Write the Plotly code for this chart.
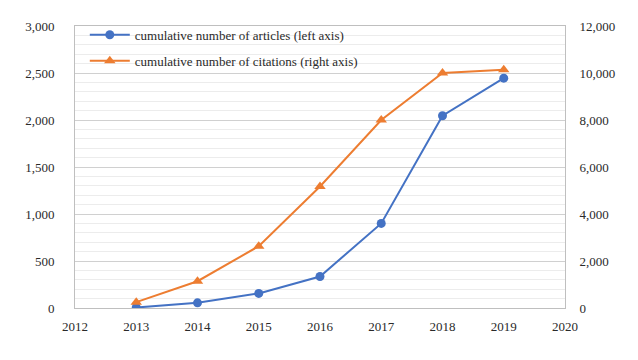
import plotly.graph_objects as go

years = [2013, 2014, 2015, 2016, 2017, 2018, 2019]
articles = [5, 55, 155, 335, 900, 2045, 2445]
citations = [250, 1140, 2630, 5170, 8000, 10000, 10140]

fig = go.Figure()
fig.add_trace(go.Scatter(
    x=years, y=articles, mode="lines+markers",
    name="cumulative number of articles (left axis)",
    legendgroup="a",
    line=dict(color="#4472C4", width=2),
    marker=dict(symbol="circle", size=9, color="#4472C4"),
    yaxis="y",
))
fig.add_trace(go.Scatter(
    x=years, y=citations, mode="lines+markers",
    name="cumulative number of citations (right axis)",
    legendgroup="b",
    line=dict(color="#ED7D31", width=2),
    marker=dict(symbol="triangle-up", size=10, color="#ED7D31"),
    yaxis="y2",
))

fig.update_layout(
    width=630, height=352,
    margin=dict(l=67, r=73, t=12, b=52),
    paper_bgcolor="white", plot_bgcolor="white",
    font=dict(family="Liberation Serif, DejaVu Serif, serif", size=13, color="#2a2a2a"),
    showlegend=True,
    legend=dict(x=0.02, y=1.022, xanchor="left", yanchor="top",
                bgcolor="rgba(0,0,0,0)", font=dict(size=13),
                itemwidth=40, tracegroupgap=6),
    xaxis=dict(range=[2012, 2020], dtick=1, tick0=2012, showgrid=False,
               showline=True, linecolor="#bfbfbf", mirror=True,
               ticks="", ticklabelstandoff=6, zeroline=False),
    yaxis=dict(range=[0, 3000], dtick=500, tickformat=",",
               showgrid=True, gridcolor="#d0d0d0", gridwidth=1,
               minor=dict(dtick=100, showgrid=True, gridcolor="#ececec"),
               showline=True, linecolor="#bfbfbf", zeroline=False,
               ticks="", ticklabelstandoff=17),
    yaxis2=dict(range=[0, 12000], dtick=2000, tickformat=",",
                overlaying="y", side="right", showgrid=False,
                showline=True, linecolor="#bfbfbf", zeroline=False,
                ticks="", ticklabelstandoff=11),
)

fig.write_html("out.html")
